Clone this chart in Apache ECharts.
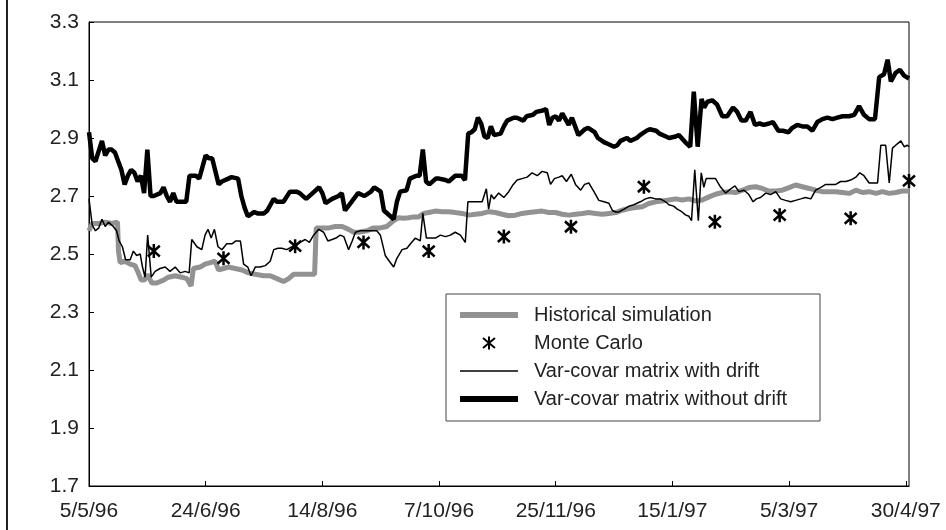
<!DOCTYPE html>
<html>
<head>
<meta charset="utf-8">
<script src="https://cdn.jsdelivr.net/npm/echarts@6/dist/echarts.min.js"></script>
<style>
  html, body { margin: 0; padding: 0; background: #fff; }
  #chart { width: 946px; height: 530px; }
</style>
</head>
<body>
<div id="chart"></div>
<script>
// x = trading day counted from 5/5/96
var xTickDays = [0, 36, 72, 108, 144, 180, 216, 252];
var xTickLabels = ['5/5/96', '24/6/96', '14/8/96', '7/10/96', '25/11/96', '15/1/97', '5/3/97', '30/4/97'];
var yTicks = [1.7, 1.9, 2.1, 2.3, 2.5, 2.7, 2.9, 3.1, 3.3];

var historical = [
    [0, 2.58], [1, 2.605], [3, 2.605], [5, 2.61], [7, 2.605], [8.8, 2.61], [9.1, 2.51], [9.6, 2.47],
    [11.1, 2.475], [12.7, 2.465], [14.2, 2.46], [15.2, 2.435], [16.1, 2.41], [17.1, 2.41], [18, 2.43],
    [19.4, 2.40], [20.9, 2.40], [23, 2.41], [24.5, 2.42], [26.6, 2.425], [28.6, 2.42], [30.2, 2.415],
    [31.5, 2.39], [32.2, 2.45], [34.3, 2.455], [35.8, 2.465], [37.4, 2.47], [38.9, 2.475], [40, 2.445],
    [41.5, 2.45], [43, 2.455], [45.1, 2.45], [47.2, 2.445], [49.2, 2.435], [51.3, 2.43], [53.9, 2.425],
    [55.9, 2.425], [58, 2.415], [60, 2.405], [61.6, 2.415], [63.1, 2.43], [65.2, 2.43], [67.2, 2.43],
    [69.6, 2.43], [70.1, 2.59], [71.9, 2.59], [74, 2.59], [76, 2.595], [78.1, 2.595], [80.1, 2.585],
    [81.7, 2.575], [83.2, 2.575], [85.8, 2.58], [87.8, 2.59], [89.9, 2.59], [91.9, 2.595], [94, 2.615],
    [95.5, 2.625], [97.1, 2.623], [98.6, 2.625], [100.2, 2.628], [101.7, 2.628], [103.3, 2.64],
    [104.8, 2.643], [106.9, 2.648], [108.9, 2.646], [111, 2.646], [113, 2.643], [115.1, 2.64],
    [117.2, 2.634], [119.2, 2.637], [121.3, 2.64], [123.4, 2.646], [125.4, 2.643], [127.5, 2.637],
    [129.5, 2.632], [131.6, 2.634], [133.6, 2.64], [135.7, 2.643], [137.8, 2.646], [139.8, 2.648],
    [141.9, 2.643], [143.9, 2.643], [146, 2.637], [148.1, 2.634], [150.1, 2.637], [152.2, 2.64],
    [154.2, 2.643], [156.3, 2.64], [158.4, 2.637], [160.4, 2.64], [162.5, 2.643], [164.5, 2.651],
    [166.6, 2.657], [168.7, 2.66], [170.7, 2.663], [172.7, 2.674], [174.8, 2.68], [176.8, 2.683],
    [178.9, 2.686], [181, 2.69], [183, 2.686], [185.1, 2.69], [187.1, 2.683], [189.2, 2.686],
    [191.3, 2.697], [193.3, 2.706], [195.4, 2.712], [197.4, 2.715], [199.5, 2.712], [201.6, 2.72],
    [203.6, 2.729], [205.7, 2.732], [207.7, 2.726], [209.8, 2.717], [211.9, 2.717], [213.9, 2.72],
    [216, 2.729], [218, 2.738], [220.1, 2.732], [222.2, 2.726], [224.2, 2.72], [226.3, 2.715],
    [228.3, 2.715], [230.4, 2.715], [232.5, 2.712], [234.5, 2.709], [236.6, 2.72], [238.6, 2.712],
    [240.7, 2.715], [242.8, 2.709], [244.8, 2.715], [246.9, 2.709], [248.9, 2.712], [251, 2.717],
    [253, 2.717]
];

var monteCarlo = [
    [20, 2.51], [41.5, 2.485], [63.6, 2.527], [84.7, 2.54], [104.8, 2.51], [128, 2.56],
    [148.7, 2.594], [171.2, 2.732], [193.1, 2.611], [213.1, 2.634], [235, 2.623], [253, 2.752]
];

var withDrift = [
    [0, 2.69], [1, 2.60], [2, 2.58], [3, 2.59], [4, 2.62], [5, 2.595], [6, 2.61], [7.5, 2.595],
    [8.5, 2.58], [9.3, 2.545], [10.3, 2.525], [11.3, 2.48], [12.7, 2.48], [13.7, 2.51], [14.7, 2.495],
    [15.8, 2.50], [16.5, 2.455], [17.3, 2.42], [18.1, 2.565], [19.2, 2.42], [20.4, 2.44], [21.9, 2.45],
    [23.5, 2.455], [25, 2.44], [26.6, 2.455], [28.1, 2.435], [29.7, 2.44], [30.9, 2.435], [31.7, 2.55],
    [33.3, 2.525], [34.8, 2.515], [35.8, 2.565], [36.7, 2.585], [37.7, 2.555], [38.7, 2.585],
    [39.8, 2.525], [41, 2.515], [42.5, 2.535], [44.1, 2.535], [45.3, 2.545], [46.7, 2.545],
    [47.7, 2.465], [49, 2.455], [50, 2.425], [51.3, 2.455], [52.8, 2.455], [54.4, 2.46], [55.9, 2.475],
    [57, 2.515], [58.3, 2.52], [59.5, 2.52], [61, 2.515], [66.7, 2.55], [68, 2.54], [69.3, 2.565],
    [70.9, 2.585], [72.4, 2.575], [73.7, 2.545], [75, 2.55], [76.2, 2.555], [77.5, 2.565], [78.6, 2.56],
    [80.1, 2.515], [81.2, 2.545], [82.2, 2.575], [83.7, 2.58], [86.8, 2.58], [88.8, 2.58], [89.9, 2.565],
    [91.4, 2.495], [93, 2.47], [94, 2.455], [95, 2.485], [96.6, 2.515], [98.1, 2.52], [99.2, 2.535],
    [100.7, 2.555], [102.2, 2.545], [103, 2.64], [104.1, 2.555], [105.3, 2.555], [106.9, 2.555],
    [108.4, 2.565], [110, 2.56], [111.5, 2.565], [113, 2.575], [114.6, 2.565], [116.1, 2.54],
    [116.9, 2.68], [118.2, 2.68], [119.7, 2.68], [121.3, 2.68], [122.6, 2.725], [123.3, 2.655],
    [124.1, 2.705], [124.9, 2.69], [126.4, 2.71], [128, 2.695], [129.5, 2.715], [130.9, 2.74],
    [132.1, 2.755], [133.6, 2.76], [135.2, 2.765], [136.7, 2.78], [138.3, 2.77], [139.8, 2.785],
    [141.4, 2.78], [142.4, 2.74], [143.6, 2.76], [145, 2.765], [146, 2.77], [147.3, 2.75],
    [148.8, 2.775], [150.1, 2.74], [151.7, 2.72], [152.9, 2.74], [154.2, 2.745], [155.8, 2.715],
    [157.3, 2.685], [158.9, 2.68], [160.4, 2.675], [161.5, 2.65], [162.5, 2.645], [163.5, 2.645],
    [165.1, 2.655], [166.6, 2.665], [168.1, 2.67], [170.1, 2.68], [171.7, 2.69], [173.2, 2.695],
    [174.8, 2.69], [176.3, 2.69], [177.9, 2.68], [178.9, 2.67], [180.4, 2.665], [181.5, 2.655],
    [183, 2.645], [184, 2.635], [185.1, 2.63], [185.9, 2.615], [186.9, 2.79], [188, 2.615],
    [188.9, 2.78], [189.7, 2.73], [190.4, 2.76], [191.8, 2.76], [193.3, 2.76], [194.9, 2.73],
    [196.4, 2.71], [198, 2.725], [199.3, 2.735], [200.5, 2.715], [202.1, 2.72], [203.6, 2.705],
    [204.9, 2.68], [205.9, 2.69], [207.2, 2.695], [208.8, 2.71], [210.3, 2.705], [211.9, 2.715],
    [213.4, 2.69], [214.9, 2.685], [216.5, 2.68], [218, 2.685], [219.6, 2.69], [221.1, 2.695],
    [222.7, 2.69], [224.2, 2.72], [225.8, 2.73], [227.3, 2.74], [228.8, 2.74], [230.4, 2.74],
    [231.9, 2.75], [233.5, 2.75], [235, 2.755], [236.6, 2.765], [237.8, 2.78], [239.1, 2.77],
    [240.7, 2.745], [242.2, 2.745], [243.3, 2.745], [244.3, 2.875], [245.8, 2.875], [246.9, 2.745],
    [247.9, 2.865], [249.4, 2.88], [250.5, 2.89], [251.5, 2.87], [252.5, 2.875], [253, 2.87]
];

var withoutDrift = [
    [0, 2.92], [1, 2.83], [2, 2.82], [4, 2.89], [5, 2.84], [6, 2.86], [7, 2.86], [8, 2.85], [9, 2.82],
    [10, 2.79], [11, 2.74], [12, 2.77], [13, 2.79], [14, 2.78], [15, 2.75], [16, 2.77], [17, 2.71],
    [18, 2.86], [19, 2.70], [20, 2.70], [22, 2.71], [23, 2.73], [24, 2.70], [25, 2.68], [26, 2.71],
    [27, 2.68], [29, 2.68], [30, 2.68], [31, 2.77], [33, 2.77], [34, 2.76], [36, 2.84], [37, 2.83],
    [38, 2.83], [40, 2.74], [41, 2.75], [43, 2.76], [44, 2.765], [46, 2.76], [47, 2.70], [48, 2.66],
    [49, 2.63], [51, 2.645], [52, 2.64], [54, 2.64], [55, 2.65], [57, 2.69], [58, 2.68], [60, 2.68],
    [62, 2.715], [64, 2.715], [65, 2.71], [67, 2.69], [69, 2.71], [71, 2.73], [72, 2.71], [73, 2.675],
    [75, 2.69], [77, 2.70], [78, 2.71], [79, 2.65], [81, 2.68], [83, 2.71], [85, 2.70], [87, 2.715],
    [88, 2.73], [90, 2.715], [91, 2.65], [93, 2.63], [94, 2.62], [95, 2.68], [96, 2.715], [98, 2.72],
    [99, 2.76], [101, 2.77], [102, 2.77], [103, 2.86], [104, 2.75], [105, 2.74], [107, 2.76],
    [108, 2.76], [110, 2.755], [111, 2.75], [113, 2.77], [115, 2.77], [116, 2.755], [117, 2.915],
    [118, 2.92], [119, 2.93], [120, 2.97], [121, 2.95], [122, 2.905], [123, 2.90], [124, 2.94],
    [125, 2.91], [127, 2.915], [128, 2.94], [129, 2.96], [131, 2.97], [132, 2.97], [134, 2.96],
    [135, 2.975], [137, 2.98], [138, 2.99], [140, 2.995], [141, 3.0], [142, 2.945], [143, 2.97],
    [144, 2.975], [145, 2.96], [146, 2.985], [148, 2.945], [149, 2.97], [150, 2.94], [151, 2.91],
    [153, 2.93], [154, 2.935], [156, 2.92], [157, 2.90], [159, 2.885], [160, 2.88], [162, 2.87],
    [163, 2.875], [164, 2.89], [166, 2.90], [167, 2.89], [169, 2.90], [170, 2.91], [172, 2.925],
    [173, 2.93], [175, 2.925], [176, 2.915], [178, 2.905], [179, 2.90], [181, 2.905], [182, 2.91],
    [184, 2.885], [185.5, 2.87], [186.6, 3.06], [187.8, 2.87], [189, 3.035], [189.8, 3.005],
    [190.8, 3.025], [192.3, 3.03], [193.8, 3.015], [195.4, 2.975], [196.9, 2.975], [198.7, 3.005],
    [200, 2.99], [201.3, 2.96], [202.6, 2.96], [204.1, 2.99], [205.5, 2.945], [206.9, 2.95],
    [208.2, 2.945], [209.8, 2.95], [211, 2.955], [212.7, 2.925], [214.1, 2.925], [215.8, 2.92],
    [217, 2.935], [218.5, 2.945], [220.1, 2.94], [221.6, 2.94], [223.2, 2.925], [224.7, 2.955],
    [226.3, 2.965], [227.8, 2.97], [229.4, 2.965], [230.9, 2.97], [232.5, 2.975], [234.5, 2.975],
    [236.1, 2.98], [237.6, 3.01], [239.1, 2.98], [240.7, 2.965], [242.5, 2.965], [243.8, 3.11],
    [245.3, 3.12], [246.4, 3.17], [247.4, 3.095], [248.9, 3.125], [250.2, 3.135], [251.5, 3.115],
    [253, 3.105]
];

var seriesNames = ['Historical simulation', 'Monte Carlo', 'Var-covar matrix with drift', 'Var-covar matrix without drift'];

// asterisk: vertical bar plus an X
var starPath = 'path://M6,0L6,13M0,1.5L12,11.5M0,11.5L12,1.5';
var font = 'Liberation Sans, Arial, sans-serif';
var noMarker = { opacity: 0 };

var chart = echarts.init(document.getElementById('chart'));
var option = {
    animation: false,
    backgroundColor: '#fff',
    grid: {
        left: 89, right: 37, top: 22, bottom: 44,
        show: true, borderColor: '#000', borderWidth: 1,
        outerBoundsMode: 'none'
    },
    graphic: [{
        type: 'line',
        shape: { x1: 7, y1: 0, x2: 7, y2: 530 },
        style: { stroke: '#222', lineWidth: 2 }
    }],
    legend: {
        orient: 'vertical',
        left: 446, top: 294,
        padding: [11, 33, 12, 11],
        itemWidth: 58, itemHeight: 13, itemGap: 8,
        borderColor: '#444', borderWidth: 1,
        backgroundColor: '#fff',
        selectedMode: false,
        textStyle: { fontFamily: font, fontSize: 20, color: '#222', lineHeight: 20, padding: [0, 0, 0, 11] },
        data: [
            { name: seriesNames[0], lineStyle: { width: 6 }, itemStyle: noMarker },
            { name: seriesNames[1], itemStyle: { borderWidth: 2, opacity: 1 } },
            { name: seriesNames[2], lineStyle: { width: 1.5 }, itemStyle: noMarker },
            { name: seriesNames[3], lineStyle: { width: 6 }, itemStyle: noMarker }
        ]
    },
    xAxis: {
        type: 'value',
        min: 0, max: 253,
        axisLine: { lineStyle: { color: '#000', width: 1 } },
        axisTick: { inside: true, length: 5, lineStyle: { color: '#000' }, customValues: xTickDays },
        axisLabel: {
            customValues: xTickDays,
            margin: 15,
            fontFamily: font, fontSize: 21, color: '#222',
            formatter: function (v) {
                var k = xTickDays.indexOf(Math.round(v));
                return k >= 0 ? xTickLabels[k] : '';
            }
        },
        splitLine: { show: false }
    },
    yAxis: {
        type: 'value',
        min: 1.7, max: 3.3,
        axisLine: { show: true, lineStyle: { color: '#000', width: 1 } },
        axisTick: { show: true, inside: true, length: 5, lineStyle: { color: '#000' }, customValues: yTicks },
        axisLabel: {
            customValues: yTicks,
            margin: 10,
            fontFamily: font, fontSize: 21, color: '#222',
            formatter: function (v) { return v.toFixed(1); }
        },
        splitLine: { show: false }
    },
    series: [
        {
            name: seriesNames[0], type: 'line', data: historical,
            symbol: 'none', z: 2,
            itemStyle: { color: '#929292' },
            lineStyle: { color: '#929292', width: 5 }
        },
        {
            name: seriesNames[1], type: 'scatter', data: monteCarlo,
            symbol: starPath, symbolSize: [13, 14], symbolKeepAspect: true,
            clip: false, z: 6,
            itemStyle: { color: 'none', borderColor: '#000', borderWidth: 2.6, opacity: 1 }
        },
        {
            name: seriesNames[2], type: 'line', data: withDrift,
            symbol: 'none', z: 3,
            itemStyle: { color: '#000' },
            lineStyle: { color: '#000', width: 1.5 }
        },
        {
            name: seriesNames[3], type: 'line', data: withoutDrift,
            symbol: 'none', z: 4,
            itemStyle: { color: '#000' },
            lineStyle: { color: '#000', width: 4.5 }
        }
    ]
};
chart.setOption(option);
</script>
</body>
</html>
